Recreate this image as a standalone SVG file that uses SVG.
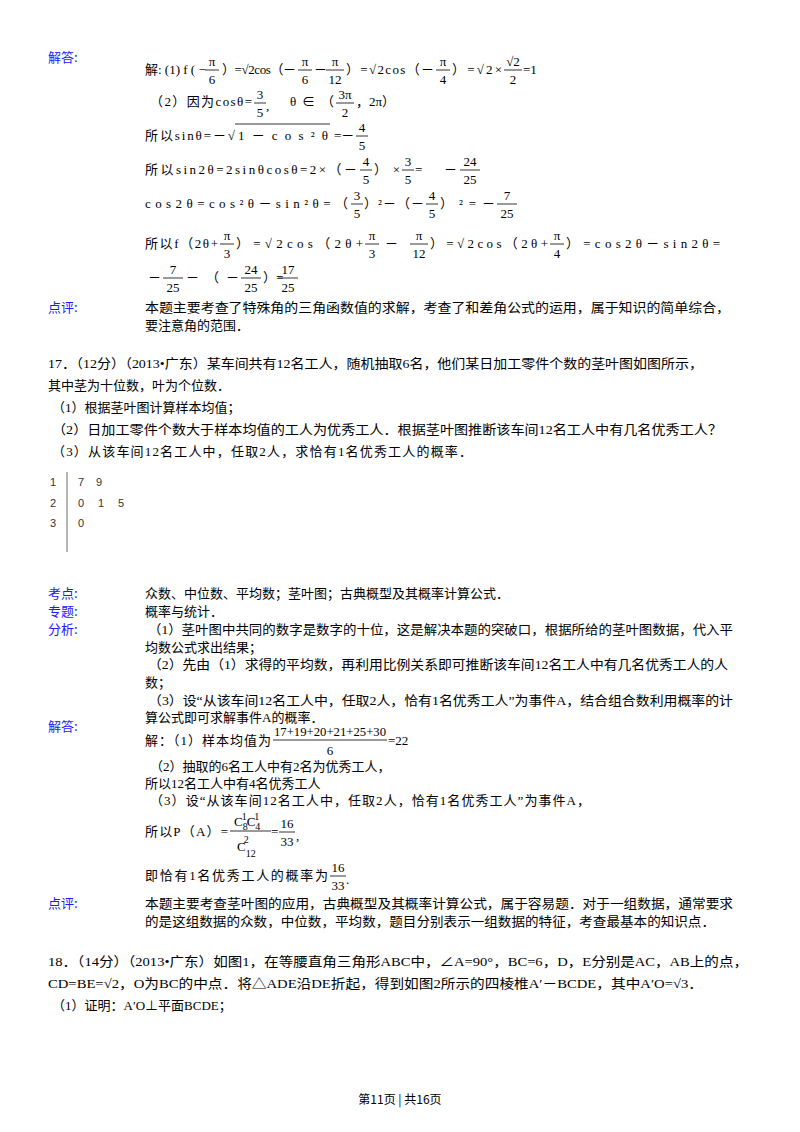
<svg xmlns="http://www.w3.org/2000/svg" width="800" height="1132" viewBox="0 0 800 1132">
<style>
text{font-family:"Liberation Serif","Noto Sans CJK SC",serif;font-size:13px;fill:#000}
.b{fill:#1a1aff;font-family:"Noto Sans CJK SC",sans-serif;font-size:13px}
.c{text-anchor:middle}
.s{font-size:10px}
.g{font-family:"Liberation Sans",sans-serif;font-size:11px;fill:#333}
line{stroke:#000;stroke-width:0.8}
</style>
<rect width="800" height="1132" fill="#fff"/>
<g id="part16">
<text class="b" x="48" y="62">解答:</text>
<text x="145" y="74">解: (1) f ( −</text>
<text class="c" x="212" y="66">π</text><line x1="205" y1="70" x2="219" y2="70"/><text class="c" x="212" y="84">6</text>
<text x="222" y="74" textLength="74" lengthAdjust="spacing">）=√2cos（－</text>
<text class="c" x="305" y="66">π</text><line x1="298" y1="70" x2="312" y2="70"/><text class="c" x="305" y="84">6</text>
<text x="314" y="74">－</text>
<text class="c" x="335" y="66">π</text><line x1="326" y1="70" x2="344" y2="70"/><text class="c" x="335" y="84">12</text>
<text x="346" y="74" textLength="88" lengthAdjust="spacing">）=√2cos（－</text>
<text class="c" x="443" y="66">π</text><line x1="436" y1="70" x2="450" y2="70"/><text class="c" x="443" y="84">4</text>
<text x="452" y="74" textLength="50" lengthAdjust="spacing">）=√2×</text>
<text class="c" x="513" y="66">√2</text><line x1="504" y1="70" x2="522" y2="70"/><text class="c" x="513" y="84">2</text>
<text x="523" y="74">=1</text>

<text x="150" y="106" textLength="102" lengthAdjust="spacing">（2）因为cosθ=</text>
<text class="c" x="260" y="99">3</text><line x1="254" y1="103" x2="266" y2="103"/><text class="c" x="260" y="117">5</text>
<text x="266" y="110">,</text>
<text x="290" y="106" textLength="44" lengthAdjust="spacing">θ∈（</text>
<text class="c" x="345" y="99">3π</text><line x1="336" y1="103" x2="354" y2="103"/><text class="c" x="345" y="117">2</text>
<text x="356" y="106">，2π）</text>

<text x="145" y="140" textLength="90" lengthAdjust="spacing">所以sinθ=－√</text>
<line x1="235" y1="124" x2="330" y2="124"/>
<text x="238" y="140" textLength="90" lengthAdjust="spacing">1－cos²θ</text>
<text x="334" y="140">=－</text>
<text class="c" x="362" y="132">4</text><line x1="356" y1="136" x2="368" y2="136"/><text class="c" x="362" y="150">5</text>

<text x="145" y="174" textLength="212" lengthAdjust="spacing">所以sin2θ=2sinθcosθ=2×（－</text>
<text class="c" x="366" y="166">4</text><line x1="360" y1="170" x2="372" y2="170"/><text class="c" x="366" y="184">5</text>
<text x="374" y="174" textLength="26" lengthAdjust="spacing">）×</text>
<text class="c" x="408" y="166">3</text><line x1="402" y1="170" x2="414" y2="170"/><text class="c" x="408" y="184">5</text>
<text x="415" y="174" textLength="42" lengthAdjust="spacing">=－</text>
<text class="c" x="470" y="166">24</text><line x1="460" y1="170" x2="480" y2="170"/><text class="c" x="470" y="184">25</text>

<text x="145" y="208" textLength="203" lengthAdjust="spacing">cos2θ=cos²θ－sin²θ=（</text>
<text class="c" x="357" y="200">3</text><line x1="351" y1="204" x2="363" y2="204"/><text class="c" x="357" y="218">5</text>
<text x="364" y="208" textLength="60" lengthAdjust="spacing">）²－（－</text>
<text class="c" x="432" y="200">4</text><line x1="426" y1="204" x2="438" y2="204"/><text class="c" x="432" y="218">5</text>
<text x="440" y="208" textLength="55" lengthAdjust="spacing">）²=－</text>
<text class="c" x="507" y="200">7</text><line x1="497" y1="204" x2="517" y2="204"/><text class="c" x="507" y="218">25</text>

<text x="145" y="248" textLength="73" lengthAdjust="spacing">所以f（2θ+</text>
<text class="c" x="227" y="240">π</text><line x1="220" y1="244" x2="234" y2="244"/><text class="c" x="227" y="258">3</text>
<text x="236" y="248" textLength="127" lengthAdjust="spacing">）=√2cos（2θ+</text>
<text class="c" x="372" y="240">π</text><line x1="365" y1="244" x2="379" y2="244"/><text class="c" x="372" y="258">3</text>
<text x="385" y="248">－</text>
<text class="c" x="419" y="240">π</text><line x1="410" y1="244" x2="428" y2="244"/><text class="c" x="419" y="258">12</text>
<text x="430" y="248" textLength="118" lengthAdjust="spacing">）=√2cos（2θ+</text>
<text class="c" x="557" y="240">π</text><line x1="550" y1="244" x2="564" y2="244"/><text class="c" x="557" y="258">4</text>
<text x="566" y="248" textLength="154" lengthAdjust="spacing">）=cos2θ－sin2θ=</text>

<text x="148" y="282">－</text>
<text class="c" x="173" y="274">7</text><line x1="163" y1="278" x2="183" y2="278"/><text class="c" x="173" y="292">25</text>
<text x="186" y="282" textLength="53" lengthAdjust="spacing">－（－</text>
<text class="c" x="251" y="274">24</text><line x1="241" y1="278" x2="261" y2="278"/><text class="c" x="251" y="292">25</text>
<text x="263" y="282">）=</text>
<text class="c" x="288" y="274">17</text><line x1="278" y1="278" x2="298" y2="278"/><text class="c" x="288" y="292">25</text>

<text class="b" x="48" y="312">点评:</text>
<text x="145" y="312" textLength="585" lengthAdjust="spacingAndGlyphs">本题主要考查了特殊角的三角函数值的求解，考查了和差角公式的运用，属于知识的简单综合，</text>
<text x="145" y="330">要注意角的范围．</text>
</g>

<g id="part17">
<text x="48" y="368" textLength="655" lengthAdjust="spacingAndGlyphs">17．（12分）（2013•广东）某车间共有12名工人，随机抽取6名，他们某日加工零件个数的茎叶图如图所示，</text>
<text x="48" y="390">其中茎为十位数，叶为个位数．</text>
<text x="52" y="412">（1）根据茎叶图计算样本均值；</text>
<text x="52" y="434" textLength="670" lengthAdjust="spacingAndGlyphs">（2）日加工零件个数大于样本均值的工人为优秀工人．根据茎叶图推断该车间12名工人中有几名优秀工人？</text>
<text x="52" y="456" textLength="420" lengthAdjust="spacing">（3）从该车间12名工人中，任取2人，求恰有1名优秀工人的概率．</text>

<line x1="67" y1="472" x2="67" y2="552" style="stroke:#444"/>
<text class="g" x="50" y="486">1</text><text class="g" x="78" y="486">7</text><text class="g" x="96" y="486">9</text>
<text class="g" x="50" y="507">2</text><text class="g" x="78" y="507">0</text><text class="g" x="98" y="507">1</text><text class="g" x="118" y="507">5</text>
<text class="g" x="50" y="527">3</text><text class="g" x="78" y="527">0</text>

<text class="b" x="48" y="598">考点:</text>
<text x="145" y="598">众数、中位数、平均数；茎叶图；古典概型及其概率计算公式．</text>
<text class="b" x="48" y="616">专题:</text>
<text x="145" y="616">概率与统计．</text>
<text class="b" x="48" y="634">分析:</text>
<text x="148" y="634" textLength="585" lengthAdjust="spacingAndGlyphs">（1）茎叶图中共同的数字是数字的十位，这是解决本题的突破口，根据所给的茎叶图数据，代入平</text>
<text x="145" y="652">均数公式求出结果；</text>
<text x="148" y="669" textLength="580" lengthAdjust="spacingAndGlyphs">（2）先由（1）求得的平均数，再利用比例关系即可推断该车间12名工人中有几名优秀工人的人</text>
<text x="145" y="687">数；</text>
<text x="148" y="705" textLength="585" lengthAdjust="spacingAndGlyphs">（3）设“从该车间12名工人中，任取2人，恰有1名优秀工人”为事件A，结合组合数利用概率的计</text>
<text x="145" y="722">算公式即可求解事件A的概率．</text>

<text class="b" x="48" y="731">解答:</text>
<text x="145" y="745" textLength="126" lengthAdjust="spacing">解：（1）样本均值为</text>
<text x="274" y="736" textLength="112" lengthAdjust="spacingAndGlyphs">17+19+20+21+25+30</text>
<line x1="273" y1="740" x2="387" y2="740"/>
<text class="c" x="330" y="755">6</text>
<text x="388" y="745">=22</text>
<text x="150" y="771">（2）抽取的6名工人中有2名为优秀工人，</text>
<text x="145" y="788">所以12名工人中有4名优秀工人</text>
<text x="150" y="805" textLength="440" lengthAdjust="spacing">（3）设“从该车间12名工人中，任取2人，恰有1名优秀工人”为事件A，</text>
<text x="145" y="836" textLength="83" lengthAdjust="spacing">所以P（A）=</text>
<text x="234" y="826">C<tspan class="s" dy="4">8</tspan><tspan class="s" dx="-6" dy="-10">1</tspan><tspan dy="6">C</tspan><tspan class="s" dy="4">4</tspan><tspan class="s" dx="-6" dy="-10">1</tspan></text>
<line x1="230" y1="831" x2="271" y2="831"/>
<text x="237" y="851">C<tspan class="s" dy="6">12</tspan><tspan class="s" dx="-12" dy="-14">2</tspan></text>
<text x="271" y="836">=</text>
<text class="c" x="287" y="828">16</text><line x1="279" y1="832" x2="295" y2="832"/><text class="c" x="287" y="846">33</text>
<text x="296" y="840">,</text>
<text x="145" y="880" textLength="183" lengthAdjust="spacing">即恰有1名优秀工人的概率为</text>
<text class="c" x="338" y="872">16</text><line x1="330" y1="876" x2="346" y2="876"/><text class="c" x="338" y="890">33</text>
<text x="346" y="884">.</text>

<text class="b" x="48" y="908">点评:</text>
<text x="145" y="908" textLength="588" lengthAdjust="spacingAndGlyphs">本题主要考查茎叶图的应用，古典概型及其概率计算公式，属于容易题．对于一组数据，通常要求</text>
<text x="145" y="926" textLength="570" lengthAdjust="spacingAndGlyphs">的是这组数据的众数，中位数，平均数，题目分别表示一组数据的特征，考查最基本的知识点．</text>
</g>

<g id="part18">
<text x="48" y="966" textLength="700" lengthAdjust="spacingAndGlyphs">18．（14分）（2013•广东）如图1，在等腰直角三角形ABC中，∠A=90°，BC=6，D，E分别是AC，AB上的点，</text>
<text x="48" y="988" textLength="655" lengthAdjust="spacingAndGlyphs">CD=BE=√2，O为BC的中点．将△ADE沿DE折起，得到如图2所示的四棱椎A′－BCDE，其中A′O=√3．</text>
<text x="52" y="1010">（1）证明：A′O⊥平面BCDE；</text>
</g>

<text class="c" x="400" y="1104" style="font-family:'Noto Sans CJK SC',sans-serif;font-size:12px">第11页 | 共16页</text>
</svg>
